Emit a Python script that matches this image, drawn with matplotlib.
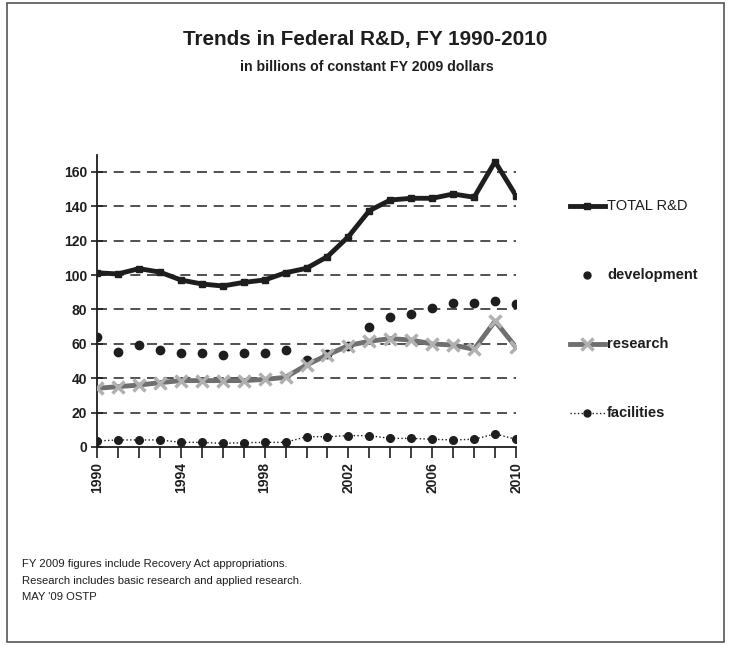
import numpy as np
import matplotlib
matplotlib.use('Agg')
import matplotlib.pyplot as plt
from matplotlib.lines import Line2D
from matplotlib.patches import Rectangle

plt.rcParams['font.family'] = ['Liberation Sans', 'DejaVu Sans']

# Federal R&D budget, billions of constant FY 2009 dollars
years = list(range(1990, 2011))
total_rd = [101.3, 100.6, 103.7, 101.7, 97.1, 94.8, 93.6, 95.7, 97.1, 101.3,
            103.9, 110.7, 122.3, 137.4, 143.6, 144.6, 144.6, 147.1, 145.2, 165.9, 146.1]
development = [64.1, 55.0, 59.1, 56.4, 54.5, 54.8, 53.5, 54.8, 54.5, 56.3,
               50.6, 54.0, 59.0, 69.6, 75.8, 77.3, 80.6, 83.9, 83.9, 84.9, 83.1]
research = [34.1, 35.1, 36.0, 37.4, 38.6, 38.6, 38.6, 38.6, 39.3, 40.5,
            47.7, 53.5, 59.0, 61.5, 63.0, 62.2, 59.9, 59.3, 56.8, 73.2, 58.0]
facilities = [3.5, 4.1, 4.1, 4.1, 2.7, 2.7, 2.1, 2.5, 2.7, 2.7,
              6.0, 6.0, 6.6, 6.6, 5.0, 5.0, 4.5, 4.1, 4.5, 7.6, 4.5]

y_ticks = [0, 20, 40, 60, 80, 100, 120, 140, 160]
x_ticklabels = [1990, 1994, 1998, 2002, 2006, 2010]

fig = plt.figure(figsize=(7.3, 6.45), dpi=100)
ax = fig.add_axes([97 / 730, 1 - 447 / 645, (516 - 97) / 730, (447 - 154.6) / 645])

ink = '#1e1e1e'

# dashed horizontal gridlines
for yv in y_ticks[1:]:
    ax.axhline(yv, color='#333333', lw=1.2, ls=(0, (6, 4)), zorder=1)

ax.plot(years, development, ls='none', marker='o', ms=6, color=ink, zorder=2)
ax.plot(years, research, color='#6f6f6f', lw=3.5, zorder=3)
ax.plot(years, research, ls='none', marker='x', ms=9, mew=2.5, color='#b0b0b0', zorder=4)
ax.plot(years, facilities, color=ink, lw=1, ls=':', marker='o', ms=5.5, zorder=3)
ax.plot(years, total_rd, color=ink, lw=3.5, marker='s', ms=5, zorder=5)

ax.set_xlim(1990, 2010)
ax.set_ylim(0, 170)
ax.set_yticks(y_ticks)
ax.set_yticklabels([str(v) for v in y_ticks], fontsize=10, fontweight='bold', color=ink)
ax.set_xticks(years)
ax.set_xticklabels([str(y) if y in x_ticklabels else '' for y in years],
                   rotation=90, fontsize=10, fontweight='bold', color=ink)
ax.tick_params(axis='y', direction='inout', length=8, width=1.2, color=ink, pad=3)
ax.tick_params(axis='x', direction='out', length=8, width=1.2, color=ink, pad=3)
for s in ['top', 'right']:
    ax.spines[s].set_visible(False)
for s in ['left', 'bottom']:
    ax.spines[s].set_color(ink)
    ax.spines[s].set_linewidth(1.3)
ax.set_facecolor('none')

# legend drawn at the right of the plot
def px(x, y):
    return x / 730, 1 - y / 645

def legend_entry(y, label, bold, **kw):
    x0, yy = px(570, y)
    x1, _ = px(605, y)
    xm, _ = px(587, y)
    if kw.get('line', True):
        fig.add_artist(Line2D([x0, x1], [yy, yy], transform=fig.transFigure,
                              color=kw.get('color', ink), lw=kw.get('lw', 3.5),
                              ls=kw.get('ls', '-')))
    fig.add_artist(Line2D([xm], [yy], transform=fig.transFigure, ls='none',
                          marker=kw.get('marker', 's'), ms=kw.get('ms', 5),
                          mew=kw.get('mew', 1), color=kw.get('mcolor', ink)))
    tx, _ = px(607, y)
    fig.text(tx, yy, label, fontsize=10.5, fontweight='bold' if bold else 'normal',
             color=ink, va='center', ha='left')

legend_entry(206, 'TOTAL R&D', False)
legend_entry(275, 'development', True, line=False, marker='o', ms=5)
legend_entry(344, 'research', True, color='#6f6f6f', marker='x', ms=8, mew=2.5, mcolor='#b0b0b0')
legend_entry(413, 'facilities', True, lw=1, ls=':', marker='o', ms=5)

fig.text(365 / 730, 1 - 40 / 645, 'Trends in Federal R&D, FY 1990-2010',
         fontsize=14.9, fontweight='bold', color=ink, ha='center', va='center')
fig.text(367 / 730, 1 - 67 / 645, 'in billions of constant FY 2009 dollars',
         fontsize=10.2, fontweight='bold', color=ink, ha='center', va='center')

notes = ['FY 2009 figures include Recovery Act appropriations.',
         'Research includes basic research and applied research.',
         "MAY '09 OSTP"]
for i, line in enumerate(notes):
    fig.text(22 / 730, 1 - (564 + 16.5 * i) / 645, line, fontsize=8.1,
             color=ink, ha='left', va='center')

# outer chart border
fig.add_artist(Rectangle((7 / 730, 3 / 645), (724 - 7) / 730, (642 - 3) / 645,
                         transform=fig.transFigure, fill=False, ec='#555555', lw=1.2))

fig.savefig('out.png', dpi=100)
